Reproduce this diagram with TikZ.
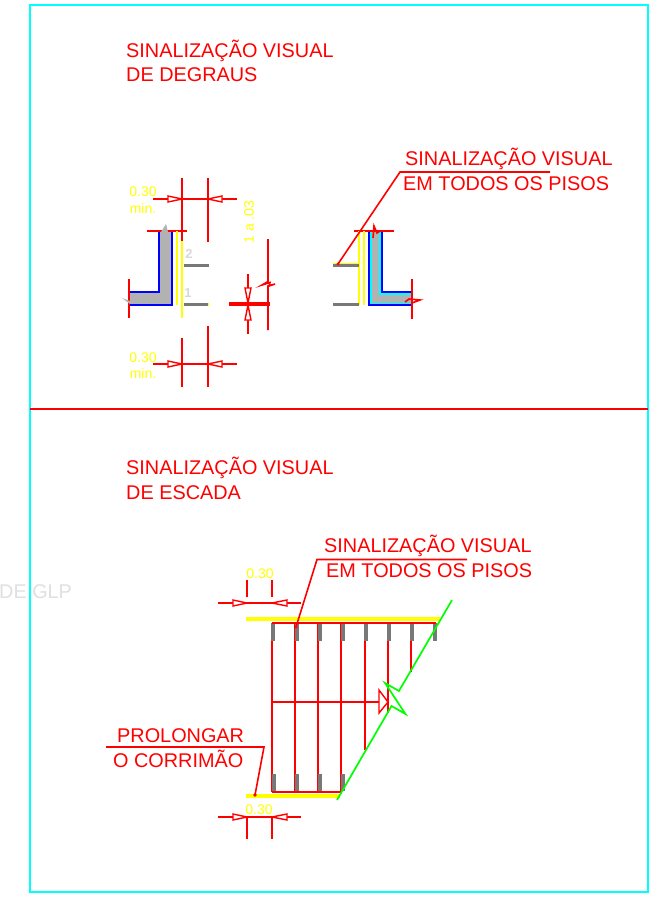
\documentclass[tikz,border=0pt]{standalone}
\usepackage{fontspec}
\setmainfont{Liberation Sans}
\definecolor{rd}{RGB}{255,0,0}
\definecolor{yl}{RGB}{255,255,0}
\definecolor{cy}{RGB}{0,255,255}
\definecolor{bl}{RGB}{0,0,255}
\definecolor{gn}{RGB}{0,255,0}
\definecolor{wall}{RGB}{178,178,178}
\definecolor{tick}{RGB}{120,120,120}
\tikzset{
 rl/.style={draw=rd,line width=1.6pt},
 yline/.style={draw=yl,line width=1.8pt},
 bline/.style={draw=bl,line width=1.6pt},
 cline/.style={draw=cy,line width=1pt},
 gline/.style={draw=gn,line width=1.7pt},
 tread/.style={draw=tick,line width=3pt},
 ticku/.style={draw=tick,line width=4pt},
 arrowhead/.style={draw=rd,line width=1.4pt,fill=white},
 bigtext/.style={anchor=base west,text=rd,font=\fontsize{19.85}{22}\selectfont,inner sep=0pt},
 ytext/.style={anchor=center,text=yl,font=\fontsize{14}{15}\selectfont,inner sep=0pt},
 ntext/.style={anchor=center,text=black!15,font=\bfseries\fontsize{13}{14}\selectfont,inner sep=0pt},
}
\begin{document}
\begin{tikzpicture}[x=1pt,y=-1pt]
\useasboundingbox (0,0) rectangle (669,900);
\fill[white] (0,0) rectangle (669,900);
% frame
\draw[draw=cy,line width=1.6pt] (30,5) rectangle (648,892);
\draw[rl] (30,409) -- (648,409);
% titles
\node[bigtext] (t1) at (126,57) {SINALIZAÇÃO VISUAL};
\node[bigtext] (t2) at (126,81) {DE DEGRAUS};
\node[bigtext] (t3) at (126,474) {SINALIZAÇÃO VISUAL};
\node[bigtext] (t4) at (126,499) {DE ESCADA};
\node[anchor=base west,text=black!12,font=\fontsize{19.85}{22}\selectfont,inner sep=0pt] (wm) at (-1,598) {DE GLP};
% left section: wall
\fill[wall] (159,231) -- (172,231) -- (172,305) -- (129,305) -- (129,292) -- (159,292) -- cycle;
\draw[cline] (171,231) -- (171,304) -- (129,304);
\draw[bline] (159,231) -- (159,292) -- (129,292);
\draw[bline] (172,231) -- (172,305) -- (129,305);
\draw[rl] (147,231) -- (187,231);
\draw[rl] (129,279) -- (129,318);
\fill[wall] (161,232) -- (166,224) -- (168,232) -- cycle;
\fill[wall] (130,301) -- (122,298) -- (130,304) -- cycle;
\draw[yline] (177,231) -- (177,305);
\draw[yline] (182,231) -- (182,318);
\draw[draw=yl,line width=2.4pt] (198,304.5) -- (209,304.5);
\draw[tread] (184,265) -- (209,265);
\draw[tread] (184,304.5) -- (208,304.5);
\node[ntext] (n2) at (189,254) {2};
\node[ntext] (n1) at (188,293) {1};
% dimension top
\draw[rl] (153,199) -- (237,199);
\draw[rl] (182,178) -- (182,241);
\draw[rl] (208,178) -- (208,242);
\draw[arrowhead] (168,196) -- (182,199) -- (168,202) -- cycle;
\draw[arrowhead] (222,196) -- (208,199) -- (222,202) -- cycle;
\node[ytext] (a1) at (143,192) {0.30};
\node[ytext] (a2) at (143,208) {min.};
% dimension bottom
\draw[rl] (153,364) -- (237,364);
\draw[rl] (182,338) -- (182,387);
\draw[rl] (208,326) -- (208,387);
\draw[arrowhead] (168,361) -- (182,364) -- (168,367) -- cycle;
\draw[arrowhead] (222,361) -- (208,364) -- (222,367) -- cycle;
\node[ytext] (b1) at (143,358) {0.30};
\node[ytext] (b2) at (143,373) {min.};
% riser dimension
\node[ytext,rotate=90] (c1) at (249,222) {1 a .03};
\draw[draw=rd,line width=3.2pt] (229,304) -- (270,304);
\draw[rl] (248,274) -- (248,334);
\draw[arrowhead] (245,288) -- (248,303) -- (251,288) -- cycle;
\draw[arrowhead] (245,320) -- (248,305) -- (251,320) -- cycle;
\draw[rl] (268,239) -- (268,281.5) -- (262,285) -- (270,282.5) -- (269,286) -- (275,284) -- (268,286) -- (268,330);
% right wall
\fill[wall] (369,231) -- (382,231) -- (382,292) -- (412,292) -- (412,305) -- (369,305) -- cycle;
\draw[draw=cy,line width=1.5pt] (371,231) -- (371,303);
\draw[draw=cy,line width=1.5pt] (380,231) -- (380,294) -- (412,294);
\draw[cline] (371,303.5) -- (412,303.5);
\draw[bline] (369,231) -- (369,305) -- (412,305);
\draw[bline] (382,231) -- (382,292) -- (412,292);
\draw[rl] (354,231) -- (394,231);
\draw[rl] (373,238) -- (374,226) -- (377,233) -- (380,231);
\draw[rl] (412,279) -- (412,319);
\draw[rl] (405,302) -- (409,299) -- (420,300) -- (412,303);
\draw[yline] (359,231) -- (359,305);
\draw[yline] (364,231) -- (364,305);
\draw[draw=yl,line width=2.4pt] (333,264) -- (359,264);
\draw[tread] (333,265.5) -- (359,265.5);
\draw[tread] (333,304) -- (359,304);
% label upper right
\node[bigtext] (u1) at (405,165) {SINALIZAÇÃO VISUAL};
\node[bigtext] (u2) at (403,190) {EM TODOS OS PISOS};
\coordinate (l1) at (550,172);
\coordinate (l2) at (400,172);
\coordinate (l3) at (338,264);
\draw[rl] (l1) -- (l2) -- (l3);
\fill[rd] (l3) circle (1.6);
% stair
\draw[draw=yl,line width=3.8pt] (246,619) -- (440,619);
\draw[rl] (272,623) -- (272,792);
\draw[rl] (295,623) -- (295,792);
\draw[rl] (318,623) -- (318,792);
\draw[rl] (341,623) -- (341,792);
\draw[rl] (365,623) -- (365,750);
\draw[rl] (388,623) -- (388,713);
\draw[rl] (411,623) -- (411,672);
\foreach \x in {273,297,320,343,366,389,412,435} \draw[ticku] (\x,623) -- (\x,641);
\foreach \x in {274,297,320,343} \draw[ticku] (\x,774) -- (\x,791);
\draw[rl] (272,623) -- (436,623);
\draw[draw=yl,line width=3.8pt] (246,796) -- (340,796);
\draw[rl] (272,792) -- (342,792);
\draw[rl] (272,702) -- (388,702);
\draw[arrowhead] (379,690) -- (388,702) -- (379,713) -- cycle;
\draw[gline] (452,600) -- (399,691) -- (385,683) -- (405.5,714) -- (391.5,706) -- (337,800);
% top dim
\draw[rl] (218,603) -- (301,603);
\draw[rl] (247,580) -- (247,597);
\draw[rl] (272,580) -- (272,597);
\draw[arrowhead] (233,600) -- (247,603) -- (233,606) -- cycle;
\draw[arrowhead] (287,600) -- (272,603) -- (287,606) -- cycle;
\node[ytext] (d1) at (260,574) {0.30};
% bottom dim
\draw[rl] (218,817) -- (301,817);
\draw[rl] (247,817) -- (247,839);
\draw[rl] (272,817) -- (272,839);
\draw[arrowhead] (233,814) -- (247,817) -- (233,820) -- cycle;
\draw[arrowhead] (287,814) -- (272,817) -- (287,820) -- cycle;
\node[ytext] (d2) at (259,810) {0.30};
% label stair
\node[bigtext] (s1) at (324,552.5) {SINALIZAÇÃO VISUAL};
\node[bigtext] (s2) at (326,577) {EM TODOS OS PISOS};
\coordinate (m1) at (467,559.5);
\coordinate (m2) at (317,559.5);
\coordinate (m3) at (296,627);
\draw[rl] (m1) -- (m2) -- (m3);
\fill[rd] (m3) circle (1.6);
% prolongar
\node[bigtext] (p1) at (117,742.5) {PROLONGAR};
\node[bigtext] (p2) at (113,767) {O CORRIMÃO};
\coordinate (q1) at (106,747);
\coordinate (q2) at (264,747);
\coordinate (q3) at (255,795);
\draw[rl] (q1) -- (q2) -- (q3);
\fill[rd] (q3) circle (1.8);
\end{tikzpicture}
\end{document}
